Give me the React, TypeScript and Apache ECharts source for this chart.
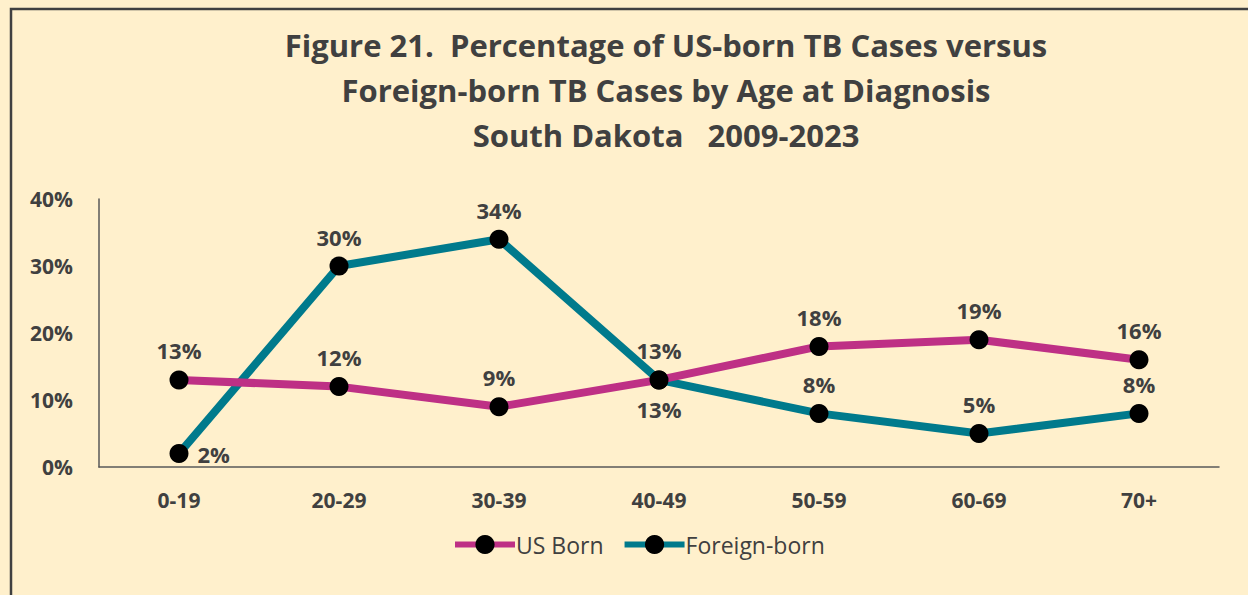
import React, { useEffect, useRef } from "react";
import * as echarts from "echarts";

const categories = ["0-19", "20-29", "30-39", "40-49", "50-59", "60-69", "70+"];
const usBorn = [13, 12, 9, 13, 18, 19, 16];
const foreignBorn = [2, 30, 34, 13, 8, 5, 8];
const foreignLabelPos = ["right", "top", "top", "bottom", "top", "top", "top"];
const yTicks = [0, 10, 20, 30, 40];

const FONT = "'Open Sans', Lato, sans-serif";
const TEXT = "#404040";

export default function App() {
  const ref = useRef<HTMLDivElement>(null);
  useEffect(() => {
    const chart = echarts.init(ref.current!, null, { renderer: "svg" });
    const labelStyle = {
      show: true,
      position: "top",
      distance: 9,
      formatter: "{c}%",
      fontFamily: FONT,
      fontWeight: "bold",
      fontSize: 22,
      color: TEXT,
    };
    chart.setOption({
      animation: false,
      backgroundColor: "#FFF0CC",
      textStyle: { fontFamily: FONT },
      title: {
        text: "Figure 21.  Percentage of US-born TB Cases versus\nForeign-born TB Cases by Age at Diagnosis\nSouth Dakota   2009-2023",
        left: 661,
        top: 17,
        textAlign: "center",
        textStyle: { fontFamily: FONT, fontWeight: "bold", fontSize: 31, lineHeight: 45, color: TEXT },
      },
      graphic: [
        {
          type: "rect",
          shape: { x: 11, y: 9, width: 1400, height: 800 },
          style: { fill: "none", stroke: "#404040", lineWidth: 2.5 },
          silent: true,
        },
      ],
      legend: {
        bottom: 34,
        left: 447,
        itemWidth: 60,
        itemHeight: 24,
        itemGap: 18,
        lineStyle: { width: 6 },
        textStyle: { fontFamily: FONT, fontSize: 23, color: TEXT, padding: [0, 0, 0, -4] },
        data: ["US Born", "Foreign-born"],
      },
      grid: { left: 99, right: 29, top: 199, bottom: 128, containLabel: false },
      xAxis: {
        type: "category",
        data: categories,
        axisLine: { lineStyle: { color: "#595959", width: 1.5 } },
        axisTick: { show: false },
        axisLabel: { fontFamily: FONT, fontWeight: "bold", fontSize: 21, color: TEXT, margin: 22 },
      },
      yAxis: {
        type: "value",
        min: yTicks[0],
        max: yTicks[yTicks.length - 1],
        interval: 10,
        axisLine: { show: true, lineStyle: { color: "#595959", width: 1.5 } },
        axisTick: { show: false },
        splitLine: { show: false },
        axisLabel: { formatter: "{value}%", fontFamily: FONT, fontWeight: "bold", fontSize: 21, color: TEXT, margin: 26 },
      },
      series: [
        {
          name: "US Born",
          type: "line",
          data: usBorn,
          symbol: "circle",
          symbolSize: 19,
          itemStyle: { color: "#000000" },
          lineStyle: { color: "#BE3085", width: 8 },
          label: labelStyle,
          z: 3,
        },
        {
          name: "Foreign-born",
          type: "line",
          data: foreignBorn.map((v, i) => ({
            value: v,
            label: { position: foreignLabelPos[i] },
          })),
          symbol: "circle",
          symbolSize: 19,
          itemStyle: { color: "#000000" },
          lineStyle: { color: "#007A8C", width: 8 },
          label: labelStyle,
          z: 2,
        },
      ],
    });
    return () => chart.dispose();
  }, []);
  return (
    <div
      ref={ref}
      style={{ position: "absolute", left: 0, top: 0, width: 1248, height: 595 }}
    />
  );
}
